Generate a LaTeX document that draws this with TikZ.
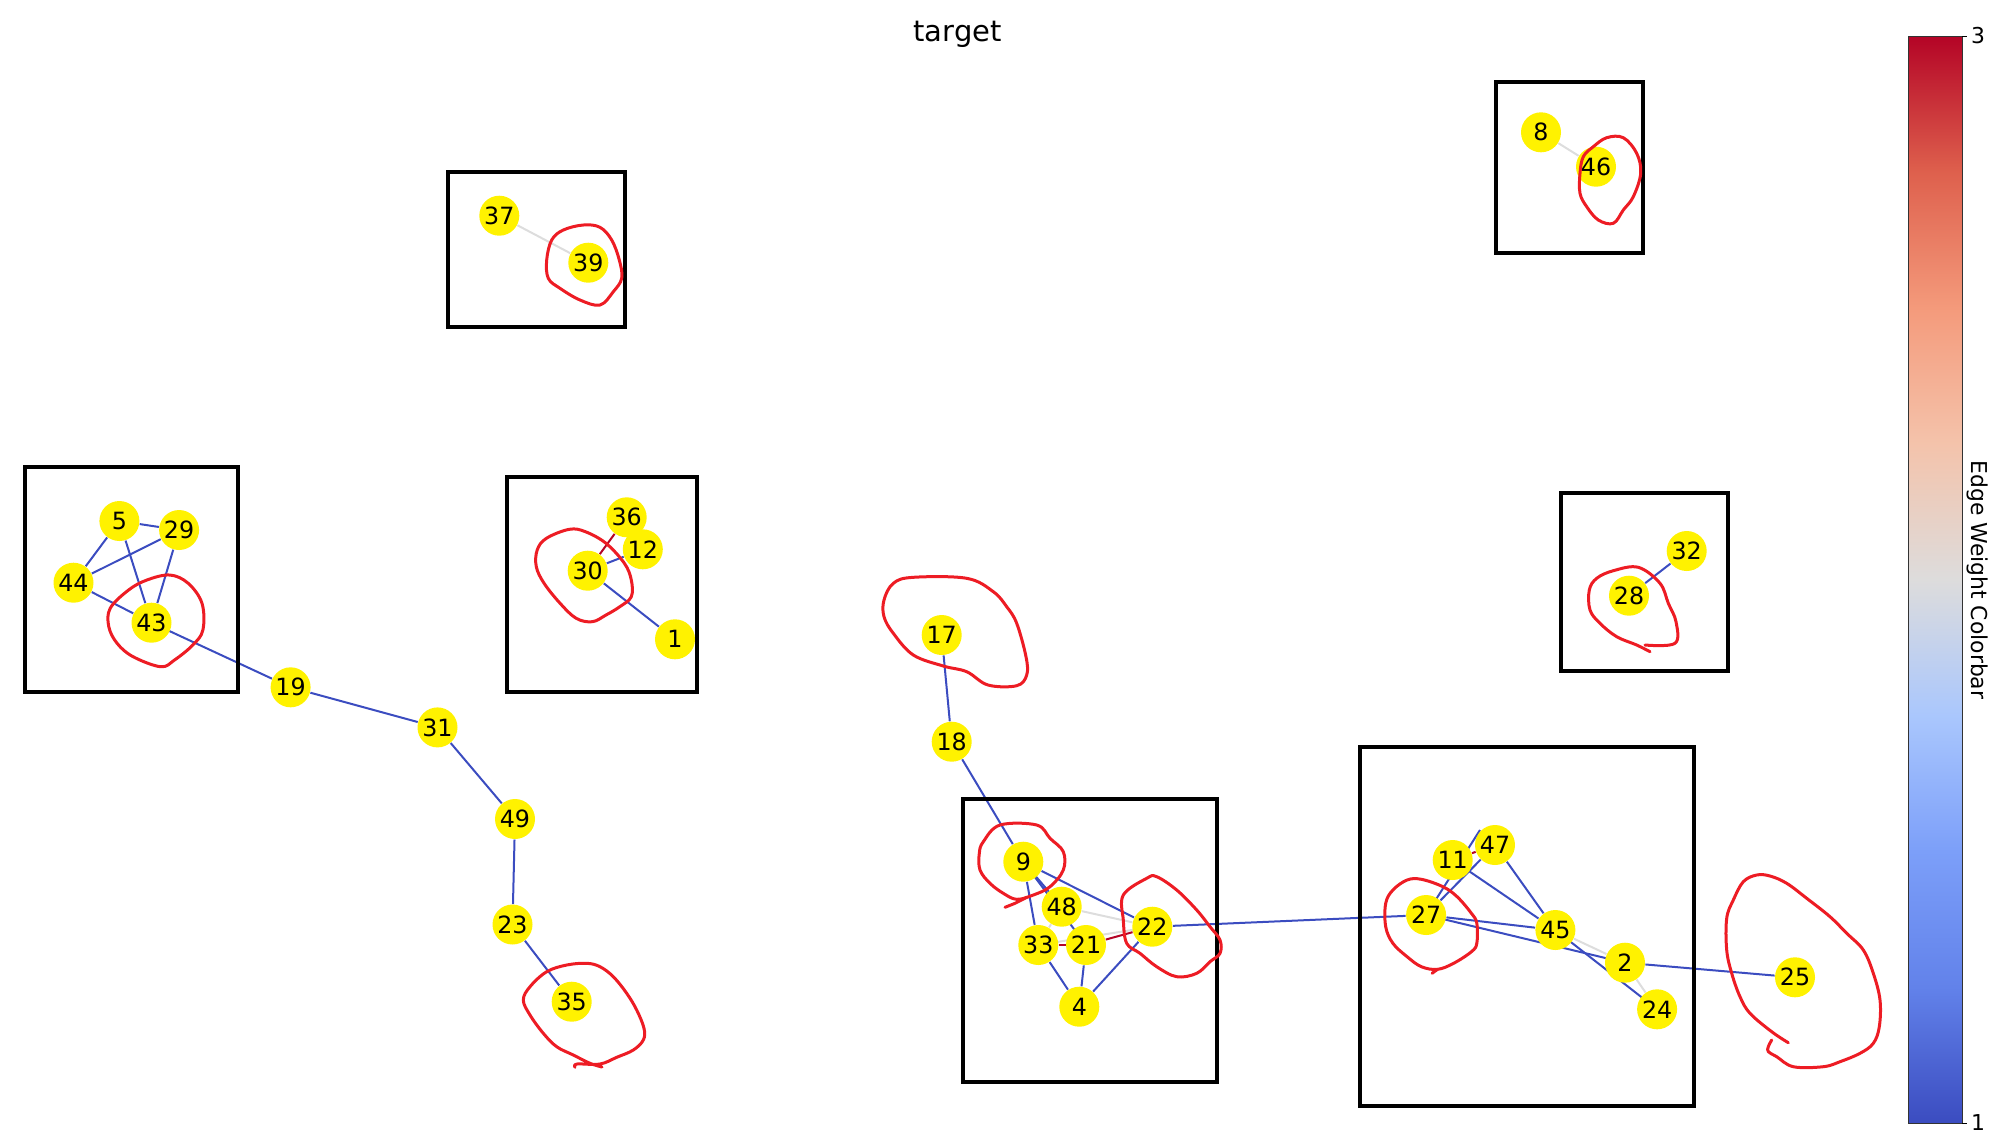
\documentclass[tikz,border=0pt]{standalone}
\usepackage{fontspec}
\setmainfont{DejaVu Sans}
\usetikzlibrary{backgrounds}

\definecolor{edgelow}{RGB}{59,76,192}
\definecolor{edgemid}{RGB}{221,221,221}
\definecolor{edgehigh}{RGB}{180,4,38}
\definecolor{loopred}{RGB}{237,28,36}
\definecolor{cwa}{RGB}{59,76,192}
\definecolor{cwb}{RGB}{98,130,234}
\definecolor{cwc}{RGB}{124,159,249}
\definecolor{cwd}{RGB}{170,199,253}
\definecolor{cwe}{RGB}{221,220,220}
\definecolor{cwf}{RGB}{244,195,171}
\definecolor{cwg}{RGB}{244,154,123}
\definecolor{cwh}{RGB}{222,96,77}
\definecolor{cwi}{RGB}{180,4,38}
\pgfdeclareverticalshading{coolwarmbar}{100bp}{color(0bp)=(cwa); color(25bp)=(cwa);
  color(31.25bp)=(cwb); color(37.5bp)=(cwc); color(43.75bp)=(cwd); color(50bp)=(cwe);
  color(56.25bp)=(cwf); color(62.5bp)=(cwg); color(68.75bp)=(cwh); color(75bp)=(cwi);
  color(100bp)=(cwi)}

\tikzset{
  vertex/.style={circle, fill=yellow, inner sep=0pt, minimum size=16pt,
    font=\fontsize{9.5}{11}\selectfont},
  lowedge/.style={edgelow, line width=0.8pt},
  midedge/.style={edgemid, line width=0.8pt},
  highedge/.style={edgehigh, line width=0.8pt},
  groupbox/.style={draw=black, line width=1.6pt},
  redloop/.style={loopred, line width=1.2pt, line join=round, line cap=round},
}

\begin{document}
\begin{tikzpicture}[x=0.4pt, y=-0.4pt]
\useasboundingbox (0,0) rectangle (1994,1142);

\node[font=\fontsize{11.6}{14}\selectfont] (title) at (957.6,34.5) {target};

% nodes
\node[vertex] (n37) at (499.3,215.7) {37};
\node[vertex] (n39) at (588.3,262.7) {39};
\node[vertex] (n8) at (1541,132.3) {8};
\node[vertex] (n46) at (1596,166.7) {46};
\node[vertex] (n5) at (119.4,521) {5};
\node[vertex] (n29) at (179.1,530) {29};
\node[vertex] (n44) at (73.5,582.7) {44};
\node[vertex] (n43) at (151.5,622.7) {43};
\node[vertex] (n36) at (626.7,517.3) {36};
\node[vertex] (n12) at (642.8,549.3) {12};
\node[vertex] (n30) at (587.7,570.7) {30};
\node[vertex] (n1) at (675,639.3) {1};
\node[vertex] (n19) at (290.6,687.3) {19};
\node[vertex] (n31) at (437.5,727.4) {31};
\node[vertex] (n49) at (515,819) {49};
\node[vertex] (n23) at (512.5,924.5) {23};
\node[vertex] (n35) at (571.7,1001.7) {35};
\node[vertex] (n17) at (941.7,635) {17};
\node[vertex] (n18) at (951.7,741.7) {18};
\node[vertex] (n9) at (1023.3,861.7) {9};
\node[vertex] (n48) at (1061.7,906.7) {48};
\node[vertex] (n33) at (1038.3,945) {33};
\node[vertex] (n21) at (1086,945) {21};
\node[vertex] (n22) at (1152.3,926.7) {22};
\node[vertex] (n4) at (1079.3,1006.7) {4};
\node[vertex] (n47) at (1495,845) {47};
\node[vertex] (n11) at (1452.7,860) {11};
\node[vertex] (n27) at (1426.1,915) {27};
\node[vertex] (n45) at (1555.4,930) {45};
\node[vertex] (n2) at (1625,962.7) {2};
\node[vertex] (n24) at (1657.1,1009.3) {24};
\node[vertex] (n25) at (1795,977.3) {25};
\node[vertex] (n32) at (1686.7,551) {32};
\node[vertex] (n28) at (1629,595.7) {28};
\coordinate (c27top) at (1480,830);

% edges
\begin{pgfonlayer}{background}
\draw[midedge] (n37) -- (n39);
\draw[midedge] (n8) -- (n46);
\draw[lowedge] (n5) -- (n29);
\draw[lowedge] (n5) -- (n44);
\draw[lowedge] (n5) -- (n43);
\draw[lowedge] (n29) -- (n44);
\draw[lowedge] (n29) -- (n43);
\draw[lowedge] (n44) -- (n43);
\draw[lowedge] (n43.center) -- (n19);
\draw[highedge] (n36) -- (n30);
\draw[lowedge] (n12) -- (n30);
\draw[lowedge] (n30) -- (n1);
\draw[lowedge] (n19) -- (n31);
\draw[lowedge] (n31) -- (n49);
\draw[lowedge] (n49) -- (n23);
\draw[lowedge] (n23) -- (n35);
\draw[lowedge] (n17) -- (n18);
\draw[lowedge] (n18) -- (n9);
\draw[lowedge] (n9.center) -- (n48.center);
\draw[lowedge] (n9.center) -- (n21.center);
\draw[lowedge] (n9) -- (n33);
\draw[lowedge] (n9) -- (n22);
\draw[midedge] (n48) -- (n22);
\draw[midedge] (n33) -- (n48);
\draw[midedge] (n33.center) -- (n22.center);
\draw[highedge] (n33) -- (n21);
\draw[highedge] (n21) -- (n22);
\draw[lowedge] (n33) -- (n4);
\draw[lowedge] (n21) -- (n4);
\draw[lowedge] (n22) -- (n4);
\draw[lowedge] (n22) -- (n27);
\draw[highedge] (n11) -- (n47);
\draw[lowedge] (n27.center) -- (c27top);
\draw[lowedge] (n27) -- (n47);
\draw[lowedge] (n11) -- (n45);
\draw[lowedge] (n47) -- (n45);
\draw[lowedge] (n27) -- (n45);
\draw[lowedge] (n27.center) -- (n2.center);
\draw[midedge] (n45) -- (n2);
\draw[lowedge] (n45.center) -- (n24.center);
\draw[midedge] (n2) -- (n24);
\draw[lowedge] (n2) -- (n25);
\draw[lowedge] (n32) -- (n28);
\end{pgfonlayer}

% boxes
\draw[groupbox] (447.7,171.7) rectangle (625,326.7);
\draw[groupbox] (1495.7,81.7) rectangle (1643.3,253.3);
\draw[groupbox] (25.3,466.7) rectangle (237.8,691.7);
\draw[groupbox] (507.3,477.3) rectangle (697,691.7);
\draw[groupbox] (963.3,799) rectangle (1216.7,1081.7);
\draw[groupbox] (1360,747.3) rectangle (1693.6,1106.4);
\draw[groupbox] (1561,493.3) rectangle (1728.3,670.7);

% loops
\draw[redloop] plot[smooth cycle, tension=0.6] coordinates {(546.7,260) (551.7,240) (563.3,230)
  (583.3,225) (600,227.3) (611.7,240) (619.3,260) (621.7,278.3) (613.3,291.7) (600,305)
  (580,300) (560,288.3) (548.3,278.3)};
\draw[redloop] plot[smooth cycle, tension=0.6] coordinates {(1580,173.3) (1583.3,156.7)
  (1593.3,146.7) (1606.7,137.7) (1623.3,137.7) (1636.7,153.3) (1640.7,173.3) (1633.3,196.7)
  (1623.3,210) (1613.3,223.3) (1598.3,220) (1586.7,206.7) (1580,193.3)};
\draw[redloop] plot[smooth cycle, tension=0.6] coordinates {(169.9,575) (188.2,583.3)
  (202,603.3) (202.9,630) (192.8,645) (174.5,660) (160.7,666.7) (133.1,656.7) (117.1,643.3)
  (108.8,626.7) (110.2,608.3) (128.6,590) (146.9,580)};
\draw[redloop] plot[smooth cycle, tension=0.6] coordinates {(569.3,529.3) (585.4,531.7)
  (606,543.3) (624.4,563.3) (631.3,580) (631.3,596.7) (619.8,606.7) (606,615) (592.3,621.7)
  (576.2,618.3) (560.1,603.3) (544.1,583.3) (536.3,566.7) (537.2,550) (546.4,538.3)};
\draw[redloop] plot[smooth, tension=0.6] coordinates {(575,1067.3) (577,1064) (600,1064)
  (616.7,1057.3) (633.3,1050) (643.3,1040) (644,1028.3) (636.7,1010) (626.7,993.3)
  (613.3,976.7) (600,966.7) (586.7,963.3) (566.7,965) (546.7,971.7) (530,986.7)
  (523.3,1000) (530,1015) (543.3,1033.3) (556.7,1046.7) (573.3,1055) (590,1063.3) (602,1067)};
\draw[redloop] plot[smooth cycle, tension=0.6] coordinates {(913.3,577.3) (966.7,578.3)
  (993.3,591.7) (1006.7,606.7) (1016.7,623.3) (1026,656.7) (1026.7,675) (1016.7,685.7)
  (988,685) (966.7,671.7) (943.3,666) (913.3,655) (893.3,633.3) (884,616.7) (884,600)
  (893.3,583.3)};
\draw[redloop] plot[smooth cycle, tension=0.6] coordinates {(1000,825) (1036.7,825)
  (1050,838.3) (1063.3,851.7) (1063.3,870) (1050,886.7) (1033.3,895) (1016.7,899.3)
  (1003.3,893.3) (990,883.3) (980,870) (979.3,853.3) (983.3,841.7)};
\draw[redloop] (1026.7,897.3) -- (1015,903.3) -- (1005,907.3);
\draw[redloop] plot[smooth cycle, tension=0.6] coordinates {(1123.3,895) (1146.7,878.3)
  (1156.7,876.7) (1176.7,890) (1196.7,910) (1210,926.7) (1220,940) (1220,953.3)
  (1210,961.7) (1196.7,973.3) (1176.7,976.7) (1156.7,966.7) (1140,953.3) (1126.7,943.3)
  (1123.3,920)};
\draw[redloop] plot[smooth cycle, tension=0.6] coordinates {(1453.6,963.3) (1471.4,951.7)
  (1476.8,943.3) (1476.8,923.3) (1471.4,913.3) (1457.1,896.7) (1442.9,886.7) (1421.4,879.3)
  (1407.1,880) (1392.9,890) (1385.7,903.3) (1385.7,926.7) (1392.9,943.3) (1407.1,956.7)
  (1421.4,966.7) (1437.5,969.3)};
\draw[redloop] (1437.5,969.3) -- (1432.1,973.3);
\draw[redloop] plot[smooth, tension=0.6] coordinates {(1788.3,1042.7) (1771.7,1031.7)
  (1750,1013.3) (1740,996.7) (1731.7,973.3) (1726.7,950) (1726.7,918.3) (1733.3,900)
  (1743.3,881.7) (1756.7,875) (1770,876) (1786.7,883.3) (1806.7,898.3) (1830,916.7)
  (1846.7,933.3) (1863.3,950) (1873.3,973.3) (1880,1000) (1879.3,1026.7) (1873.3,1043.3)
  (1860,1053.3) (1840,1061.7) (1823.3,1066.7) (1793.3,1066.7) (1776.7,1056.7)
  (1768.3,1051.7) (1768.3,1046.7) (1771.7,1040)};
\draw[redloop] plot[smooth, tension=0.6] coordinates {(1645,645) (1675,643.3) (1676,621.7)
  (1668.3,603.3) (1660,583.3) (1638.3,567.3) (1613.3,570.7) (1596.7,578.3) (1589.3,590)
  (1590,610) (1600,623.3) (1616.7,636.7) (1636.7,645) (1650,651.7)};

% colorbar
\shade[shading=coolwarmbar] (1908,36) rectangle (1962,1123);
\draw[line width=0.4pt, black!80] (1908,36) rectangle (1962,1123);
\draw[line width=0.4pt] (1962,36) -- (1967,36);
\draw[line width=0.4pt] (1962,1123) -- (1967,1123);
\node[anchor=west, inner sep=1pt, font=\fontsize{8.75}{10}\selectfont] (tickhi) at (1968,36) {3};
\node[anchor=west, inner sep=1pt, font=\fontsize{8.75}{10}\selectfont] (ticklo) at (1968,1123) {1};
\node[rotate=-90, font=\fontsize{8.75}{10}\selectfont] (cblabel) at (1978,580) {Edge Weight Colorbar};
\end{tikzpicture}
\end{document}
